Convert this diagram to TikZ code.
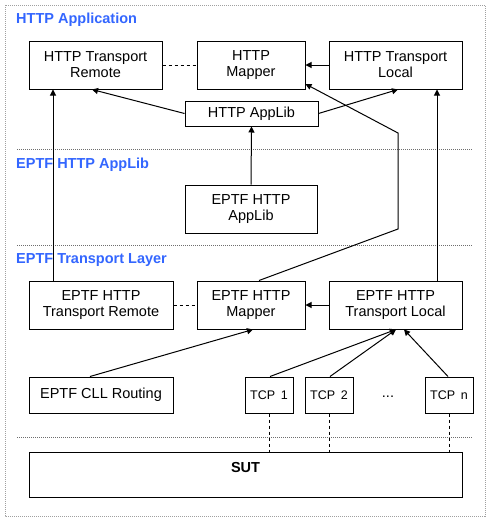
\documentclass[tikz,border=0pt]{standalone}
\usepackage{fontspec}
\setmainfont{Liberation Sans}
\usetikzlibrary{arrows.meta,calc}
\definecolor{titleblue}{RGB}{51,102,255}
\definecolor{sepgray}{RGB}{110,110,110}
\definecolor{bordergray}{RGB}{160,160,160}
\begin{document}
\begin{tikzpicture}[x=1pt,y=-1pt,
  every node/.style={font=\fontsize{14.5}{16}\selectfont},
  boxnode/.style={draw=black,line width=1pt,fill=white,align=center,inner sep=0pt,minimum height=48pt},
  titlenode/.style={anchor=west,inner sep=0pt,text=titleblue,font=\fontsize{14.5}{16}\selectfont\bfseries},
  conn/.style={line width=1pt,-{Triangle[length=6pt,width=6pt]}},
  dashconn/.style={line width=1pt,dash pattern=on 3pt off 3pt},
  sepline/.style={sepgray,line width=0.8pt,dash pattern=on 1pt off 1pt}
]
\useasboundingbox (0,0) rectangle (493,525);
\draw[bordergray,line width=0.8pt,dash pattern=on 1pt off 1pt] (5,5) rectangle (485,516);

% separators
\draw[sepline] (17,149.5) -- (473,149.5);
\draw[sepline] (17,245.5) -- (473,245.5);
\draw[sepline] (17,437.5) -- (473,437.5);

% titles
\node[titlenode] (t1) at (16,20) {HTTP Application};
\node[titlenode] (t2) at (16,165) {EPTF HTTP AppLib};
\node[titlenode] (t3) at (16,260) {EPTF Transport Layer};

% HTTP Application layer
\node[boxnode,minimum width=133pt] (tr) at (95.5,65) {HTTP Transport\\Remote};
\node[boxnode,minimum width=108pt] (mp) at (251,65) {HTTP\\Mapper};
\node[boxnode,minimum width=133pt] (tl) at (395.5,65) {HTTP Transport\\Local};
\node[boxnode,minimum width=133pt,minimum height=25pt] (al) at (251.5,113.5) {HTTP AppLib};

% AppLib layer
\node[boxnode,minimum width=132pt] (eal) at (251,209) {EPTF HTTP\\AppLib};

% Transport layer
\node[boxnode,minimum width=144pt] (etr) at (101,305) {EPTF HTTP\\Transport Remote};
\node[boxnode,minimum width=108pt] (emp) at (251,305) {EPTF HTTP\\Mapper};
\node[boxnode,minimum width=133pt] (etl) at (395.5,305) {EPTF HTTP\\Transport Local};

\node[boxnode,minimum width=144pt,minimum height=36pt] (cll) at (101,395) {EPTF CLL Routing};
\node[boxnode,minimum width=48pt,minimum height=36pt,font=\fontsize{12.5}{14}\selectfont] (tcp1) at (269,395) {TCP\hspace{0.45em}1};
\node[boxnode,minimum width=48pt,minimum height=36pt,font=\fontsize{12.5}{14}\selectfont] (tcp2) at (329,395) {TCP\hspace{0.45em}2};
\node[boxnode,minimum width=48pt,minimum height=36pt,font=\fontsize{12.5}{14}\selectfont] (tcpn) at (449,395) {TCP\hspace{0.45em}n};
\node[inner sep=0pt] (dots) at (388,397) {...};

% SUT
\node[draw=black,line width=1pt,anchor=north,minimum width=433pt,inner sep=0pt,
      text height=20pt,text depth=25pt,font=\fontsize{14.5}{16}\selectfont\bfseries] (sut) at (245.5,452) {SUT};

% connectors, upper layer
\draw[dashconn] (tr.east) -- (mp.west);
\draw[conn] (tl.west) -- (mp.east);
\draw[conn] (al.west) -- (92,0 |- tr.south);
\draw[conn] (al.east) -- (398,0 |- tl.south);
\draw[conn] (eal.north) -- (al.south);

% long verticals
\draw[conn] (53,0 |- etr.north) -- (53,0 |- tr.south);
\draw[conn] (437,0 |- etl.north) -- (437,0 |- tl.south);

% mapper to mapper
\coordinate (b1) at (398,229);
\coordinate (b2) at (398,133);
\draw[conn] (259,0 |- emp.north) -- (b1) -- (b2) -- (mp.east |- 0,84);

% transport layer
\draw[dashconn] (etr.east) -- (emp.west);
\draw[conn] (etl.west) -- (emp.east);
\draw[conn] (90,0 |- cll.north) -- (253,0 |- emp.south);
\draw[conn] (270,0 |- tcp1.north) -- (396,0 |- etl.south);
\draw[conn] (330,0 |- tcp2.north) -- (396,0 |- etl.south);
\draw[conn] (448,0 |- tcpn.north) -- (404,0 |- etl.south);

% TCP to SUT
\draw[dashconn,line width=0.8pt] (tcp1.south) -- (tcp1.south |- sut.north);
\draw[dashconn,line width=0.8pt] (tcp2.south) -- (tcp2.south |- sut.north);
\draw[dashconn,line width=0.8pt] (tcpn.south) -- (tcpn.south |- sut.north);
\end{tikzpicture}
\end{document}
